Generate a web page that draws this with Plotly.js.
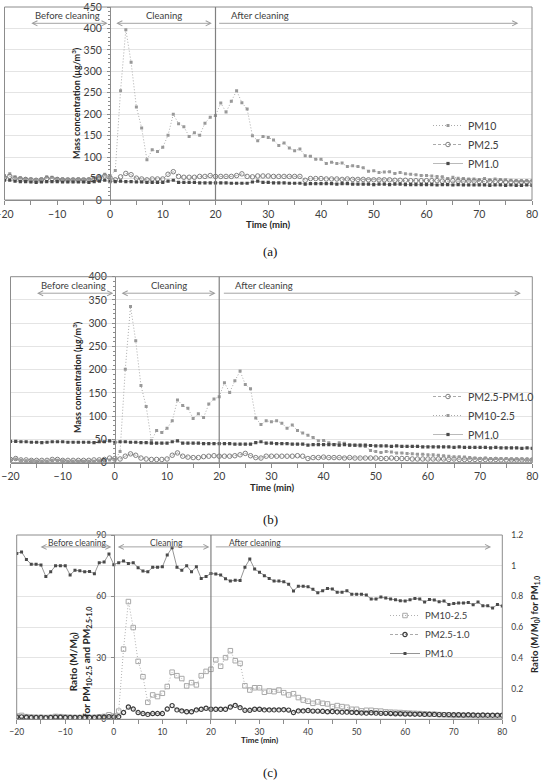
<!DOCTYPE html>
<html>
<head>
<meta charset="utf-8">
<script src="https://cdn.plot.ly/plotly-3.0.1.min.js"></script>
<style>
  html, body { margin: 0; padding: 0; background: #ffffff; }
  #chart { width: 541px; height: 780px; }
</style>
</head>
<body>
<div id="chart"></div>
<script>
// Time axis (min), -20 to 80 in 1-minute steps
const minutes = [
  -20, -19, -18, -17, -16, -15, -14, -13, -12, -11, -10, -9, -8, -7, -6, -5, -4, -3, -2, -1, 0,
  1, 2, 3, 4, 5, 6, 7, 8, 9, 10, 11, 12, 13, 14, 15, 16, 17, 18, 19, 20,
  21, 22, 23, 24, 25, 26, 27, 28, 29, 30, 31, 32, 33, 34, 35, 36, 37, 38, 39, 40,
  41, 42, 43, 44, 45, 46, 47, 48, 49, 50, 51, 52, 53, 54, 55, 56, 57, 58, 59, 60,
  61, 62, 63, 64, 65, 66, 67, 68, 69, 70, 71, 72, 73, 74, 75, 76, 77, 78, 79, 80
];

// (a) Mass concentrations (ug/m3)
const pm10A = [
  57, 61, 54, 52, 50, 49, 47, 49, 54, 53, 50, 49, 48, 48, 49, 48, 49, 52, 54, 60, 55,
  69, 255, 397, 321, 217, 168, 94, 117, 113, 123, 151, 200, 178, 171, 148, 157, 151, 179, 193, 197,
  226, 205, 230, 255, 227, 212, 150, 138, 148, 146,
  140, 127, 133, 121, 115, 119, 103, 102, 95, 95, 85, 88, 85, 86, 78, 80, 78, 75, 67, 68,
  64, 65, 66, 62, 64, 61, 60, 59, 57, 57, 56, 55, 54, 50, 53, 51, 50, 49, 49, 48,
  50, 47, 49, 48, 47, 46, 45, 45, 45, 45
];
const pm25A = [
  52, 55, 50, 49, 48, 47, 46, 47, 50, 50, 48, 47, 47, 47, 47, 47, 47, 49, 51, 56, 52,
  47, 54, 62, 59, 51, 49, 47, 49, 49, 49, 60, 66, 55, 53, 53, 53, 55, 55, 57, 55,
  55, 55, 55, 57, 61, 55, 54, 56, 56, 56,
  55, 55, 55, 55, 55, 55, 46, 50, 50, 50, 49, 49, 49, 48, 49, 48, 48, 48, 47, 47,
  47, 47, 47, 46, 46, 46, 45, 45, 45, 45, 45, 45, 44, 44, 45, 44, 44, 44, 44, 43,
  43, 43, 43, 43, 42, 42, 42, 42, 42, 42
];
const pm1A = [
  46, 46, 44, 43, 43, 42, 41, 42, 43, 43, 43, 42, 42, 42, 42, 42, 41, 43, 44, 46, 43,
  43, 44, 43, 43, 42, 42, 41, 41, 41, 41, 44, 46, 41, 41, 41, 41, 40, 40, 40, 40,
  40, 40, 39, 39, 39, 39, 42, 44, 41, 41,
  40, 40, 40, 39, 39, 39, 37, 38, 38, 38, 38, 38, 37, 38, 38, 37, 37, 37, 37, 36,
  37, 37, 36, 37, 37, 36, 36, 36, 36, 36, 36, 35, 36, 36, 35, 36, 35, 35, 35, 35,
  35, 34, 35, 35, 34, 35, 34, 34, 35, 34
];

// (b) Size-segregated mass concentrations (ug/m3)
const pm25to1B = [
  7, 9, 6, 6, 5, 5, 5, 5, 7, 7, 5, 5, 5, 5, 5, 5, 6, 6, 7, 10, 9,
  8, 14, 19, 16, 10, 8, 7, 7, 7, 8, 16, 21, 14, 12, 11, 11, 13, 14, 15, 14,
  14, 14, 15, 17, 20, 15, 11, 10, 14, 14,
  14, 14, 14, 14, 15, 14, 9, 11, 11, 12, 11, 11, 11, 10, 11, 10, 10, 10, 10, 10,
  9, 9, 10, 9, 9, 9, 8, 8, 8, 8, 8, 8, 8, 7, 8, 7, 7, 7, 7, 7,
  7, 6, 7, 6, 6, 6, 6, 6, 6, 6
];
const pm10to25B = [
  6, 8, 5, 4, 4, 3, 3, 3, 5, 5, 4, 3, 3, 3, 3, 3, 3, 4, 5, 6, 5,
  24, 201, 336, 262, 166, 121, 48, 69, 65, 74, 90, 135, 123, 117, 95, 105, 97, 126, 137, 142,
  172, 151, 176, 197, 168, 159, 96, 82, 90, 88,
  90, 85, 74, 81, 69, 64, 59, 54, 47, 48, 43, 39, 43, 42, 38, 37, 36, 35, 26, 24,
  22, 24, 23, 21, 21, 20, 19, 18, 18, 17, 17, 16, 15, 14, 13, 13, 12, 11, 10, 9,
  10, 9, 9, 9, 9, 8, 8, 8, 7, 7
];
const pm1B = [
  46, 46, 45, 45, 44, 44, 43, 44, 45, 45, 45, 44, 44, 44, 44, 44, 43, 45, 45, 47, 44,
  45, 45, 44, 44, 43, 43, 42, 42, 42, 42, 45, 47, 42, 42, 42, 42, 41, 41, 41, 41,
  41, 41, 40, 40, 40, 40, 43, 45, 42, 42,
  41, 41, 41, 40, 40, 40, 38, 39, 39, 39, 39, 39, 38, 39, 38, 38, 38, 38, 37, 36,
  36, 36, 35, 36, 35, 35, 35, 35, 34, 34, 34, 34, 34, 34, 33, 34, 33, 33, 33, 33,
  33, 32, 33, 32, 32, 32, 32, 31, 32, 31
];

// (c) Ratios to the pre-cleaning level M0
const ratio10to25C = [
  1.6, 1.9, 1.3, 1.1, 1.0, 1.0, 0.9, 1.0, 1.4, 1.3, 1.1, 1.0, 0.9, 0.9, 1.0, 0.9, 1.0, 1.2, 1.4, 2.2, 1.6,
  4.0, 34.3, 57.5, 44.8, 28.3, 20.8, 8.3, 11.9, 11.1, 12.7, 16.0, 23.0, 21.3, 19.9, 16.3, 17.9, 16.8, 21.3, 23.4, 24.4,
  29.0, 25.9, 30.1, 33.5, 28.6, 27.3, 16.4, 14.3, 15.4, 15.4,
  13.2, 13.8, 13.5, 14.3, 13.0, 11.9, 12.5, 10.6, 9.4, 8.8, 7.8, 8.5, 7.8, 7.5, 6.2, 6.7, 6.2, 5.9, 4.9, 4.9,
  4.1, 4.4, 4.4, 4.1, 4.0, 3.6, 3.5, 3.4, 3.3, 3.1, 3.0, 2.9, 2.8, 2.7, 2.4, 2.5, 2.3, 2.2, 2.1, 1.9,
  2.0, 1.9, 1.8, 1.8, 1.7, 1.7, 1.7, 1.6, 1.6, 1.6
];
const ratio25to1C = [
  1.1, 1.2, 1.0, 0.9, 0.9, 0.9, 0.8, 0.9, 1.0, 1.0, 0.9, 0.9, 0.9, 0.9, 0.9, 0.9, 0.9, 1.0, 1.1, 1.3, 1.1,
  1.3, 3.3, 6.0, 5.0, 3.3, 2.8, 2.4, 2.8, 2.8, 2.8, 5.0, 6.7, 4.6, 4.1, 3.7, 3.7, 4.6, 4.9, 5.4, 4.9,
  4.9, 4.9, 4.9, 6.0, 6.8, 5.7, 4.4, 4.4, 4.9, 4.9,
  4.6, 4.6, 4.6, 4.6, 4.7, 4.5, 3.3, 4.1, 4.1, 4.3, 4.0, 4.0, 3.9, 3.7, 3.8, 3.6, 3.5, 3.5, 3.4, 3.3,
  3.1, 3.0, 3.2, 3.0, 2.9, 2.9, 2.8, 2.7, 2.7, 2.6, 2.6, 2.5, 2.5, 2.4, 2.5, 2.4, 2.3, 2.3, 2.3, 2.2,
  2.2, 2.1, 2.2, 2.1, 2.0, 2.1, 2.0, 2.0, 2.0, 2.0
];
const ratio1C = [
  1.08, 1.09, 1.04, 1.01, 1.01, 1.005, 0.93, 0.96, 1.0, 1.0, 1.0, 0.94, 0.97, 0.967, 0.96, 0.963, 0.948, 1.02, 1.024, 1.076, 1.007,
  1.02, 1.03, 1.015, 1.02, 0.987, 0.965, 0.96, 0.99, 0.99, 0.993, 1.07, 1.117, 0.99, 0.97, 1.0, 0.96, 0.993, 0.917, 0.93, 0.95,
  0.946, 0.94, 0.915, 0.9, 0.906, 0.904, 0.99, 1.043, 0.978, 0.957,
  0.935, 0.917, 0.9, 0.9, 0.896, 0.88, 0.835, 0.867, 0.867, 0.863, 0.846, 0.824, 0.837, 0.852, 0.848, 0.828, 0.828, 0.837, 0.815, 0.815,
  0.815, 0.809, 0.783, 0.783, 0.796, 0.789, 0.783, 0.778, 0.772, 0.77, 0.778, 0.787, 0.783, 0.763, 0.78, 0.776, 0.765, 0.77, 0.748, 0.754,
  0.757, 0.757, 0.76, 0.746, 0.763, 0.739, 0.739, 0.724, 0.748, 0.737
];

// Phase labels
const phaseLabels = ['Before cleaning', 'Cleaning', 'After cleaning'];

// ---------- styling / layout ----------
const W = 541, H = 780;
const px = v => v / W;          // pixel x -> paper
const py = v => 1 - v / H;      // pixel y (from top) -> paper
const FONT = 'Lato, "Open Sans", "DejaVu Sans", sans-serif';
const TXT = '#404040';
const AX = '#8c8c8c';
const DOTS = '1px,2px';

const styles = {
  dotted: (mc) => ({ mode: 'lines+markers', line: { color: '#aaaaaa', width: 1, dash: DOTS },
                     marker: { symbol: 'square', size: 3, color: mc } }),
  dashedCircle: (c, lw, sz) => ({ mode: 'lines+markers', line: { color: '#a0a0a0', width: 0.9, dash: '3px,2px' },
                     marker: { symbol: 'circle-open', size: sz, color: c, line: { width: lw, color: c } } }),
  solidSquare: () => ({ mode: 'lines+markers', line: { color: '#a8a8a8', width: 0.8 },
                     marker: { symbol: 'square', size: 3.2, color: '#4a4a4a' } })
};

function trace(name, y, xa, ya, legend, style) {
  return Object.assign({ type: 'scatter', name, x: minutes, y, xaxis: xa, yaxis: ya, legend,
                         hoverinfo: 'skip', cliponaxis: true }, style);
}

const data = [
  trace('PM10',  pm10A, 'x', 'y', 'legend', styles.dotted('#999999')),
  trace('PM2.5', pm25A, 'x', 'y', 'legend', styles.dashedCircle('#808080', 1, 4.5)),
  trace('PM1.0', pm1A,  'x', 'y', 'legend', styles.solidSquare()),

  trace('PM2.5-PM1.0', pm25to1B, 'x2', 'y2', 'legend2', styles.dashedCircle('#808080', 1, 4.5)),
  trace('PM10-2.5',    pm10to25B, 'x2', 'y2', 'legend2', styles.dotted('#999999')),
  trace('PM1.0',       pm1B,     'x2', 'y2', 'legend2', styles.solidSquare()),

  trace('PM10-2.5', ratio10to25C, 'x3', 'y3', 'legend3',
        { mode: 'lines+markers', line: { color: '#b0b0b0', width: 1, dash: DOTS },
          marker: { symbol: 'square-open', size: 4.5, color: '#a8a8a8', line: { width: 1, color: '#a8a8a8' } } }),
  trace('PM2.5-1.0', ratio25to1C, 'x3', 'y3', 'legend3', styles.dashedCircle('#3c3c3c', 1.2, 4.2)),
  trace('PM1.0', ratio1C, 'x3', 'y4', 'legend3',
        { mode: 'lines+markers', line: { color: '#7a7a7a', width: 0.8 },
          marker: { symbol: 'square', size: 3, color: '#4a4a4a' } })
];

function xAxis(x0, x1, anchor, fs) {
  return {
    domain: [px(x0), px(x1)], anchor, range: [-20, 80], tick0: 0, dtick: 10,
    showgrid: false, zeroline: false, showline: true, linecolor: AX, linewidth: 1,
    ticks: 'outside', ticklen: 4, tickcolor: AX, ticklabeloverflow: 'allow',
    tickfont: { family: FONT, size: fs, color: TXT },
    minor: { dtick: 5, ticks: 'outside', ticklen: 4, tickcolor: AX, showgrid: false },
    fixedrange: true
  };
}
function yAxis(top, bottom, xZeroPx, range, dtick, minorDt, fs, grid) {
  return {
    domain: [py(bottom), py(top)], anchor: 'free', position: px(xZeroPx), side: 'left',
    range, dtick, tick0: 0, showgrid: grid, gridcolor: '#e4e4e4', gridwidth: 1,
    zeroline: false, showline: true, linecolor: AX, linewidth: 1,
    ticks: 'outside', ticklen: 3, tickcolor: AX, ticklabelstandoff: 3, ticklabeloverflow: 'allow',
    tickfont: { family: FONT, size: fs, color: TXT },
    minor: minorDt ? { dtick: minorDt, ticks: 'outside', ticklen: 2, tickcolor: AX, showgrid: false } : undefined,
    fixedrange: true
  };
}

// panel geometry in pixels
const A = { l: 4.5, r: 532, t: 7, b: 200 };
const B = { l: 10.5, r: 532.3, t: 276.7, b: 462.7 };
const C = { l: 16.7, r: 502.3, t: 535, b: 719.3 };
const zeroPx = P => P.l + (P.r - P.l) * 0.2;

const legendBase = (xPx, yPx, fs) => ({
  x: px(xPx), y: py(yPx), xanchor: 'left', yanchor: 'top', bgcolor: 'rgba(0,0,0,0)',
  font: { family: FONT, size: fs, color: TXT }, tracegroupgap: 0, itemwidth: 30
});

const layout = {
  width: W, height: H,
  margin: { l: 0, r: 0, t: 0, b: 0, pad: 0 },
  paper_bgcolor: '#ffffff', plot_bgcolor: '#ffffff',
  font: { family: FONT, color: TXT },
  hovermode: false,
  xaxis: xAxis(A.l, A.r, 'y', 10.5),
  yaxis: yAxis(A.t, A.b, zeroPx(A), [0, 450], 50, 10, 10.5, true),
  xaxis2: xAxis(B.l, B.r, 'y2', 10.5),
  yaxis2: yAxis(B.t, B.b, zeroPx(B), [0, 400], 50, 10, 10.5, true),
  xaxis3: xAxis(C.l, C.r, 'y3', 8.5),
  yaxis3: yAxis(C.t, C.b, zeroPx(C), [0, 90], 30, null, 8.5, false),
  yaxis4: {
    overlaying: 'y3', side: 'right', anchor: 'x3', range: [0, 1.2], dtick: 0.2, tick0: 0,
    showgrid: true, gridcolor: '#e4e4e4', zeroline: false, showline: false,
    ticks: '', ticklabelstandoff: 8, ticklabeloverflow: 'allow',
    tickfont: { family: FONT, size: 8.5, color: TXT }, fixedrange: true
  },
  legend: legendBase(428, 111, 10.5),
  legend2: legendBase(428, 382, 10.5),
  legend3: legendBase(385, 601, 9.5),
  shapes: [],
  annotations: []
};

// frames and the end-of-cleaning marker at t = 20 min
[['x', 'y'], ['x2', 'y2'], ['x3', 'y3']].forEach(([xa, ya]) => {
  layout.shapes.push({ type: 'rect', xref: xa + ' domain', yref: ya + ' domain', x0: 0, x1: 1, y0: 0, y1: 1,
                       line: { color: AX, width: 1 }, fillcolor: 'rgba(0,0,0,0)', layer: 'above' });
  layout.shapes.push({ type: 'line', xref: xa, yref: ya + ' domain', x0: 20, x1: 20, y0: 0, y1: 1,
                       line: { color: '#808080', width: 1.2 }, layer: 'above' });
});

// phase labels with arrows
function phases(xa, ya, textY, arrowY, fs, cfg) {
  const common = { xref: xa, yref: ya, showarrow: false, font: { family: FONT, size: fs, color: TXT } };
  layout.annotations.push(Object.assign({}, common, { x: cfg.beforeX, y: textY, text: phaseLabels[0] }));
  layout.annotations.push(Object.assign({}, common, { x: cfg.cleanX, y: textY, text: phaseLabels[1] }));
  layout.annotations.push(Object.assign({}, common, { x: cfg.afterX, y: textY, text: phaseLabels[2], xanchor: 'left' }));
  const arrow = (x0, x1, side) => ({
    xref: xa, yref: ya, axref: xa, ayref: ya, x: x1, y: arrowY, ax: x0, ay: arrowY, text: '',
    showarrow: true, arrowhead: 5, startarrowhead: 5, arrowside: side, arrowsize: 1.1, startarrowsize: 1.1,
    arrowwidth: 0.9, arrowcolor: '#9a9a9a', standoff: 0, startstandoff: 0
  });
  layout.annotations.push(arrow(cfg.b0, cfg.b1, 'end+start'));
  layout.annotations.push(arrow(cfg.c0, cfg.c1, 'end+start'));
  layout.annotations.push(arrow(cfg.a0, cfg.a1, 'end'));
}
phases('x', 'y', 431, 412, 9.5, { beforeX: -8, cleanX: 10.3, afterX: 22.6, b0: -15.2, b1: -0.45, c0: 0.9, c1: 19.3, a0: 20.4, a1: 77.4 });
phases('x2', 'y2', 381, 364.5, 9.5, { beforeX: -8, cleanX: 10.4, afterX: 22.6, b0: -15.2, b1: -0.3, c0: 1.0, c1: 19.3, a0: 20.6, a1: 77.8 });
phases('x3', 'y3', 86.3, 84.2, 8.5, { beforeX: -7.6, cleanX: 10.8, afterX: 23.3, b0: -15.4, b1: -0.5, c0: 0.5, c1: 19.7, a0: 20.7, a1: 77.7 });

// axis titles and panel letters
function label(text, xPx, yPx, size, extra) {
  layout.annotations.push(Object.assign({ xref: 'paper', yref: 'paper', x: px(xPx), y: py(yPx), text,
    showarrow: false, xanchor: 'center', yanchor: 'middle', font: { family: FONT, size, color: '#262626' } }, extra || {}));
}
const SERIF = '"Liberation Serif", "Times New Roman", serif';
label('<b>Mass concentration (μg/m<sup>3</sup>)</b>', 76, 103, 9, { textangle: -90 });
label('<b>Time (min)</b>', 268, 225, 9.5);
label('(a)', 270, 252, 13, { font: { family: SERIF, size: 13, color: '#111' } });

label('<b>Mass concentration (μg/m<sup>3</sup>)</b>', 77, 377, 9, { textangle: -90 });
label('<b>Time (min)</b>', 272, 487, 9.5);
label('(b)', 270, 519, 13, { font: { family: SERIF, size: 13, color: '#111' } });

label('<b>Ratio (M/M<sub>0</sub>)<br>for PM<sub>10-2.5</sub> and PM<sub>2.5-1.0</sub></b>', 80, 662, 10, { textangle: -90 });
label('<b>Ratio (M/M<sub>0</sub>) for PM<sub>1.0</sub></b>', 535, 625, 9.5, { textangle: -90 });
label('<b>Time (min)</b>', 259, 740, 8);
label('(c)', 270, 772, 13, { font: { family: SERIF, size: 13, color: '#111' } });

Plotly.newPlot('chart', data, layout, { staticPlot: true, displayModeBar: false });
</script>
</body>
</html>
